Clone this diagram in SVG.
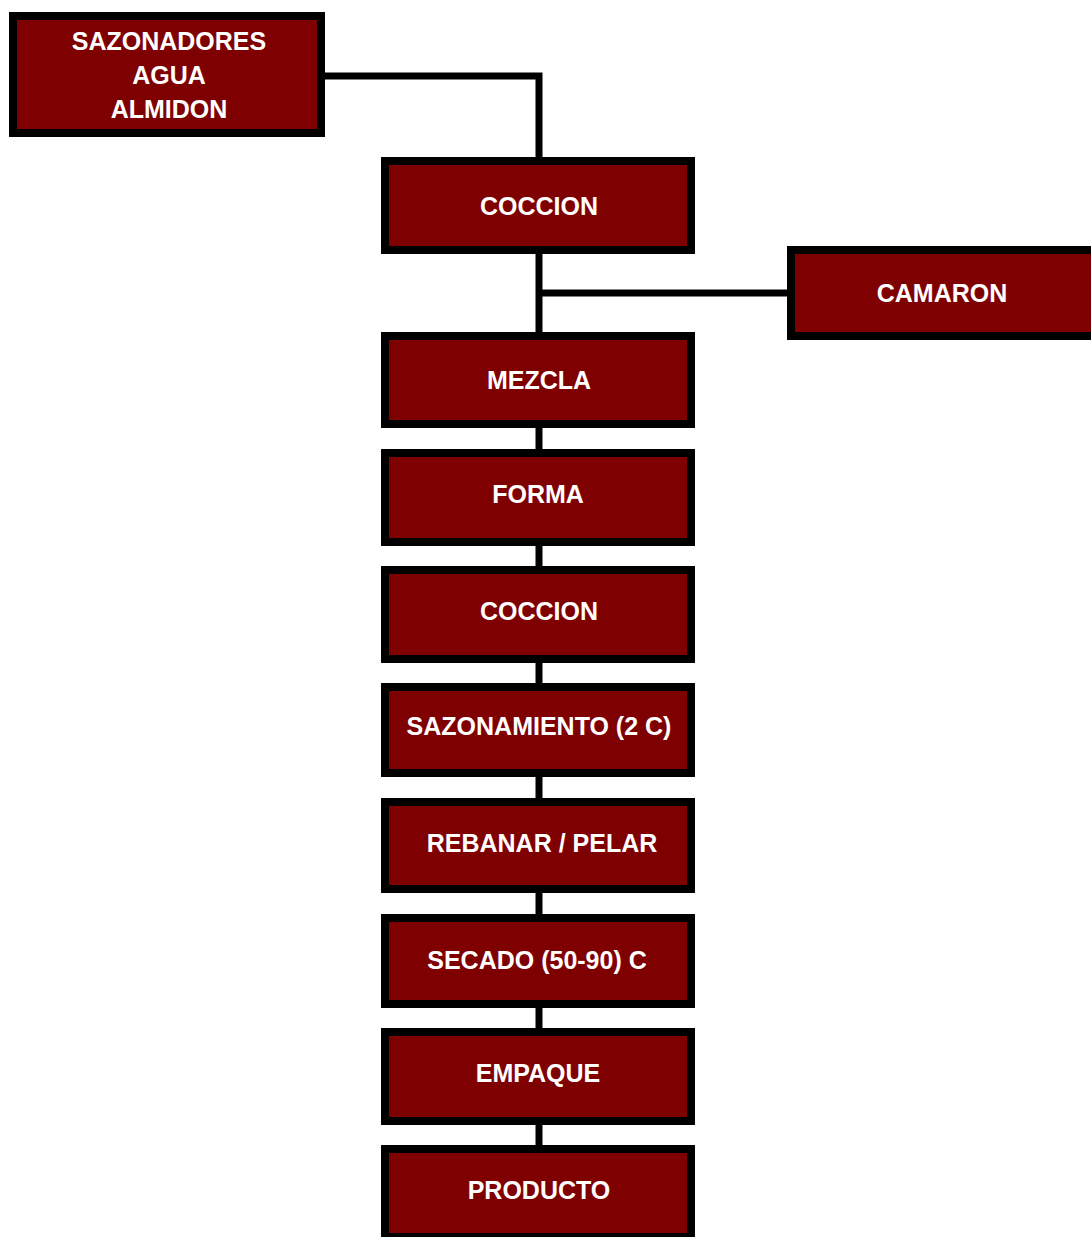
<svg xmlns="http://www.w3.org/2000/svg" width="1091" height="1237" viewBox="0 0 1091 1237">
  <style>
    .box { fill: #7f0000; stroke: #000; stroke-width: 8; }
    .lbl { fill: #fff; font-family: "Liberation Sans", Arial, sans-serif; font-weight: bold; font-size: 25px; text-anchor: middle; }
    .wire { fill: none; stroke: #000; stroke-width: 7; }
  </style>
  <rect width="1091" height="1237" fill="#fff"/>

  <!-- connectors -->
  <g id="connectors">
    <polyline class="wire" points="321,76 539,76 539,161"/>
    <line class="wire" x1="539" y1="250" x2="539" y2="336"/>
    <line class="wire" x1="539" y1="293" x2="791" y2="293"/>
    <line class="wire" x1="539" y1="424" x2="539" y2="453"/>
    <line class="wire" x1="539" y1="542" x2="539" y2="570"/>
    <line class="wire" x1="539" y1="659" x2="539" y2="687"/>
    <line class="wire" x1="539" y1="773" x2="539" y2="802"/>
    <line class="wire" x1="539" y1="889" x2="539" y2="918"/>
    <line class="wire" x1="539" y1="1004" x2="539" y2="1032"/>
    <line class="wire" x1="539" y1="1121" x2="539" y2="1149"/>
  </g>

  <g id="n-sazonadores">
    <rect class="box" x="13" y="16" width="308" height="117"/>
    <text class="lbl" x="169" y="50">SAZONADORES</text>
    <text class="lbl" x="169" y="84">AGUA</text>
    <text class="lbl" x="169" y="118">ALMIDON</text>
  </g>

  <g id="n-coccion1">
    <rect class="box" x="385" y="161" width="306" height="89"/>
    <text class="lbl" x="539" y="215">COCCION</text>
  </g>

  <g id="n-camaron">
    <rect class="box" x="791" y="250" width="306" height="86"/>
    <text class="lbl" x="942" y="302">CAMARON</text>
  </g>

  <g id="n-mezcla">
    <rect class="box" x="385" y="336" width="306" height="88"/>
    <text class="lbl" x="539" y="389">MEZCLA</text>
  </g>

  <g id="n-forma">
    <rect class="box" x="385" y="453" width="306" height="89"/>
    <text class="lbl" x="538" y="503">FORMA</text>
  </g>

  <g id="n-coccion2">
    <rect class="box" x="385" y="570" width="306" height="89"/>
    <text class="lbl" x="539" y="620">COCCION</text>
  </g>

  <g id="n-sazonamiento">
    <rect class="box" x="385" y="687" width="306" height="86"/>
    <text class="lbl" x="539" y="735">SAZONAMIENTO (2 C)</text>
  </g>

  <g id="n-rebanar">
    <rect class="box" x="385" y="802" width="306" height="87"/>
    <text class="lbl" x="542" y="852">REBANAR / PELAR</text>
  </g>

  <g id="n-secado">
    <rect class="box" x="385" y="918" width="306" height="86"/>
    <text class="lbl" x="537" y="969">SECADO (50-90) C</text>
  </g>

  <g id="n-empaque">
    <rect class="box" x="385" y="1032" width="306" height="89"/>
    <text class="lbl" x="538" y="1082">EMPAQUE</text>
  </g>

  <g id="n-producto">
    <rect class="box" x="385" y="1149" width="306" height="88"/>
    <text class="lbl" x="539" y="1199">PRODUCTO</text>
  </g>
</svg>
